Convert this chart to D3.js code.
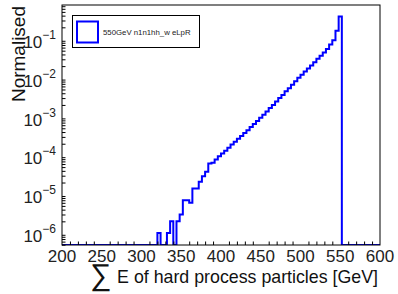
<!DOCTYPE html>
<html>
<head>
<meta charset="utf-8">
<script src="https://cdn.jsdelivr.net/npm/d3@7"></script>
<style>
body { margin: 0; background: #fff; }
svg { display: block; }
text { font-family: "Liberation Sans", Arial, Helvetica, sans-serif; }
</style>
</head>
<body>
<svg id="chart"></svg>
<script>
var width = 398;
var height = 294;

// histogram: 100 bins of 4 GeV from 200 to 600
var binStart = 200;
var binWidth = 4;
var binValues = [
  0, 0, 0, 0, 0, 0, 0, 0, 0, 0,
  0, 0, 0, 0, 0, 0, 0, 0, 0, 0,
  0, 0, 0, 0, 0, 0, 0, 0, 0, 0,
  1e-6, 0, 0, 1e-6, 2e-6, 0, 2e-6, 3e-6, 7e-6, 7e-6,
  6e-6, 1.4e-5, 1.4e-5, 2.1e-5, 2.9e-5, 3.8e-5, 6.2e-5, 6.5e-5, 7.9e-5, 9.5e-5,
  1.12e-4, 1.32e-4, 1.58e-4, 1.91e-4, 2.24e-4, 2.69e-4, 3.16e-4, 3.8e-4, 4.47e-4, 5.37e-4,
  6.46e-4, 7.76e-4, 9.33e-4, 1.12e-3, 1.35e-3, 1.66e-3, 2.0e-3, 2.45e-3, 3.02e-3, 3.63e-3,
  4.47e-3, 5.37e-3, 6.61e-3, 8.13e-3, 1.0e-2, 1.2e-2, 1.45e-2, 1.74e-2, 2.09e-2, 2.51e-2,
  3.09e-2, 3.72e-2, 4.47e-2, 5.5e-2, 7.24e-2, 9.33e-2, 0.162, 0.38, 0, 0,
  0, 0, 0, 0, 0, 0, 0, 0, 0, 0
];

var xMajorTicks = [200, 250, 300, 350, 400, 450, 500, 550, 600];
var yMajorTicks = [1e-6, 1e-5, 1e-4, 1e-3, 1e-2, 1e-1];
var yTickExponents = ["\u22126", "\u22125", "\u22124", "\u22123", "\u22122", "\u22121"];
var legendLabel = "550GeV n1n1hh_w eLpR";
var yTitle = "Normalised";
var xTitle = "E of hard process particles [GeV]";

var frame = { left: 62, right: 380, top: 5, bottom: 245 };

var svg = d3.select("#chart")
  .attr("width", width)
  .attr("height", height);

var x = d3.scaleLinear()
  .domain([200, 600])
  .range([frame.left, frame.right]);

var y = d3.scaleLog()
  .domain([4.91e-7, 0.752])
  .range([frame.bottom, frame.top]);

// minor ticks
var xMinor = d3.range(200, 601, 10).filter(function (d) { return d % 50 != 0; });
var yMinor = [];
for (var p = -7; p <= 0; p++) {
  for (var m = 2; m <= 9; m++) {
    var v = m * Math.pow(10, p);
    if (v > y.domain()[0] && v < y.domain()[1]) yMinor.push(v);
  }
}

svg.append("defs").append("clipPath").attr("id", "frameclip")
  .append("rect")
  .attr("x", frame.left).attr("y", frame.top)
  .attr("width", frame.right - frame.left)
  .attr("height", frame.bottom - frame.top);

// histogram outline
var pts = [[x(binStart), frame.bottom]];
binValues.forEach(function (v, i) {
  var lo = binStart + i * binWidth;
  var yy = v > 0 ? y(v) : frame.bottom;
  pts.push([x(lo), yy]);
  pts.push([x(lo + binWidth), yy]);
});
pts.push([x(600), frame.bottom]);

svg.append("path")
  .attr("clip-path", "url(#frameclip)")
  .attr("d", d3.line()(pts))
  .attr("fill", "none")
  .attr("stroke", "#0000ff")
  .attr("stroke-width", 2)
  .attr("stroke-linejoin", "miter");

// x axis
var gx = svg.append("g").attr("transform", "translate(0," + frame.bottom + ")");
gx.call(d3.axisBottom(x).tickValues(xMajorTicks).tickSize(-7).tickFormat(""));
gx.call(d3.axisBottom(x).tickValues(xMinor).tickSize(-3.5).tickFormat(""));
gx.selectAll(".domain").remove();
gx.selectAll("line").attr("stroke", "#000");

svg.selectAll(".xlab")
  .data(xMajorTicks)
  .enter().append("text")
  .attr("class", "xlab")
  .attr("x", function (d) { return x(d); })
  .attr("y", 261.5)
  .attr("text-anchor", "middle")
  .attr("font-size", "17px")
  .attr("fill", "#222")
  .text(function (d) { return d; });

// y axis
var gy = svg.append("g").attr("transform", "translate(" + frame.left + ",0)");
gy.call(d3.axisLeft(y).tickValues(yMajorTicks).tickSize(-7).tickFormat(""));
gy.call(d3.axisLeft(y).tickValues(yMinor).tickSize(-3.5).tickFormat(""));
gy.selectAll(".domain").remove();
gy.selectAll("line").attr("stroke", "#000");

var ylab = svg.selectAll(".ylab")
  .data(yMajorTicks)
  .enter().append("text")
  .attr("class", "ylab")
  .attr("x", 56)
  .attr("y", function (d) { return y(d) + 9; })
  .attr("text-anchor", "end")
  .attr("fill", "#222");
ylab.append("tspan").attr("font-size", "17px").text("10");
ylab.append("tspan").attr("font-size", "12px").attr("dy", -9)
  .text(function (d, i) { return yTickExponents[i]; });

// frame
svg.append("rect")
  .attr("x", frame.left).attr("y", frame.top)
  .attr("width", frame.right - frame.left)
  .attr("height", frame.bottom - frame.top)
  .attr("fill", "none")
  .attr("stroke", "#000")
  .attr("stroke-width", 1);

// legend
var lg = svg.append("g");
lg.append("rect")
  .attr("x", 72.5).attr("y", 15.5)
  .attr("width", 127).attr("height", 32)
  .attr("fill", "#fff").attr("stroke", "#000");
lg.append("rect")
  .attr("x", 77).attr("y", 21.5)
  .attr("width", 21).attr("height", 21)
  .attr("fill", "none").attr("stroke", "#0000ff").attr("stroke-width", 2);
lg.append("text")
  .attr("x", 103).attr("y", 35)
  .attr("font-size", "7.8px")
  .attr("fill", "#222")
  .text(legendLabel);

// axis titles
svg.append("text")
  .attr("transform", "translate(25,6) rotate(-90)")
  .attr("text-anchor", "end")
  .attr("font-size", "19px")
  .attr("fill", "#111")
  .text(yTitle);

svg.append("text")
  .attr("x", 101).attr("y", 285)
  .attr("text-anchor", "middle")
  .attr("font-family", "'Liberation Serif', 'DejaVu Serif', serif")
  .attr("font-size", "30px")
  .attr("fill", "#111")
  .text("\u2211");

svg.append("text")
  .attr("x", 378).attr("y", 283)
  .attr("text-anchor", "end")
  .attr("font-size", "17.8px")
  .attr("fill", "#111")
  .text(xTitle);
</script>
</body>
</html>
